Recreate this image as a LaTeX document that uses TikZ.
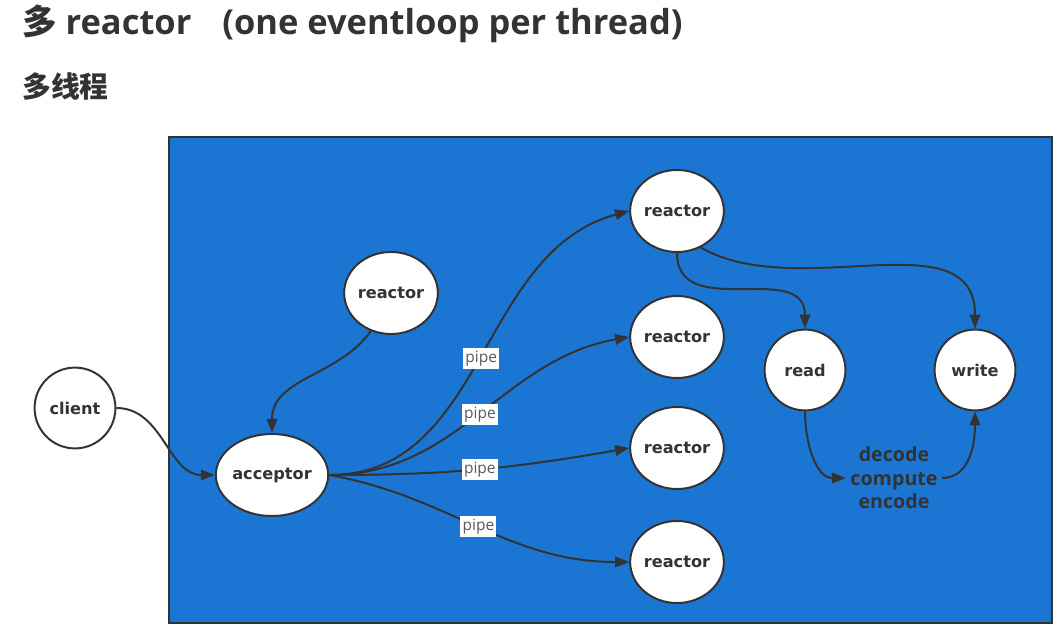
\documentclass[tikz,border=0pt]{standalone}
\usepackage{fontspec}
\setmainfont{Open Sans}
\newfontfamily\cjkfont{Noto Sans CJK SC}
\newfontfamily\handfont{DejaVu Sans}
\usetikzlibrary{shapes.geometric,arrows.meta}

\definecolor{bgblue}{RGB}{26,118,210}
\definecolor{inkgray}{RGB}{51,51,51}
\definecolor{pipegray}{RGB}{90,90,90}

\tikzset{
  ell/.style={ellipse, draw=inkgray, fill=white, line width=1.4pt, inner sep=0pt,
    minimum width=2.34cm, minimum height=2.05cm,
    font=\handfont\bfseries\fontsize{11.5}{13}\selectfont, text=inkgray},
  round/.style={ell, minimum width=2.02cm, minimum height=2.02cm},
  pipe/.style={fill=white, text=pipegray, inner xsep=1.6pt, inner ysep=2.2pt,
    font=\fontsize{11}{12}\selectfont},
  link/.style={draw=inkgray, line width=1.4pt, -{Triangle[length=10pt,width=7.5pt]}},
}

\begin{document}
\begin{tikzpicture}[x=0.025cm, y=0.025cm]
    \useasboundingbox (0,0) rectangle (1062,-629);
    % heading
    \node[anchor=base west, inner sep=0pt, text=inkgray] (title) at (22,-35)
        {\fontsize{24.5}{28}\selectfont\bfseries{\cjkfont 多} reactor\hspace{0.9em}(one eventloop per thread)};
    \node[anchor=base west, inner sep=0pt, text=inkgray] (sub) at (22,-98)
        {\cjkfont\bfseries\fontsize{20.5}{24}\selectfont 多线程};
    % thread box
    \draw[fill=bgblue, draw=inkgray, line width=1.2pt] (169,-137) rectangle (1052,-623);
    \node[round] (client) at (75,-408) {client};
    \node[ell, minimum width=2.52cm] (acc) at (272,-475) {acceptor};
    \node[ell] (main) at (391,-293) {reactor};
    \node[ell] (sub1) at (677,-211) {reactor};
    \node[ell] (sub2) at (677,-337) {reactor};
    \node[ell] (sub3) at (677,-448) {reactor};
    \node[ell] (sub4) at (677,-562) {reactor};
    \node[round] (read) at (805,-370) {read};
    \node[round] (write) at (975,-370) {write};
    \node[align=center, text=inkgray, inner sep=3pt, font=\fontsize{14}{16.7}\selectfont\bfseries] (work) at (894,-478) {decode\\compute\\encode};
    \draw[link] (client.east) to[out=0, in=180] (acc.west);
    \draw[link] (main.-118) to[out=-125, in=90] (acc.north);
    \draw[link] (acc.east) to[out=0, in=195] node[pipe] {pipe} (sub1.west);
    \draw[link] (acc.east) to[out=0, in=190] node[pipe] {pipe} (sub2.west);
    \draw[link] (acc.east) to[out=0, in=190] node[pipe] {pipe} (sub3.west);
    \draw[link] (acc.east) to[out=-10, in=180] node[pipe] {pipe} (sub4.west);
    \draw[link] (sub1.south) to[out=-90, in=90, looseness=1.2] (read.north);
    \draw[link] (sub1.-57) to[out=-30, in=90] (write.north);
    \draw[link] (read.south) to[out=-90, in=180] (work.west);
    \draw[link] (work.east) to[out=0, in=-90] (write.south);
\end{tikzpicture}
\end{document}
